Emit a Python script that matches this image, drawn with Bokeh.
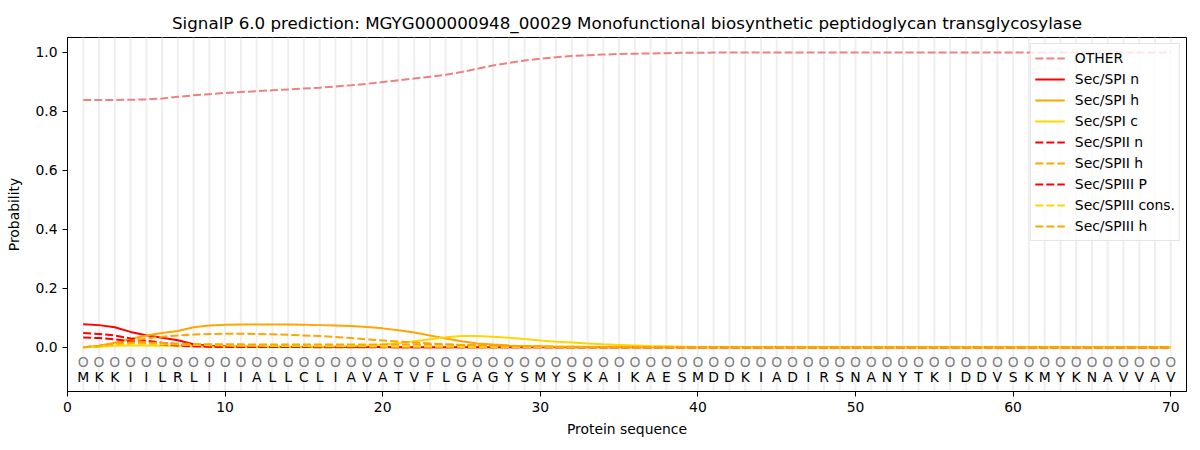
import numpy as np
from bokeh.plotting import figure
from bokeh.models import Span, FixedTicker, PrintfTickFormatter, Range1d, ColumnDataSource
from bokeh.core.properties import value
from bokeh.embed import file_html
from bokeh.resources import INLINE

title = "SignalP 6.0 prediction: MGYG000000948_00029 Monofunctional biosynthetic peptidoglycan transglycosylase"
sequence = "MKKIILRLIIIALLCLIAVATVFLGAGYSMYSKAIKAESMDDKIADIRSNANYTKIDDVSKMYKNAVVAV"

other = [0.838, 0.838, 0.838, 0.839, 0.840, 0.843, 0.849, 0.854, 0.858, 0.862,
         0.865, 0.868, 0.871, 0.874, 0.877, 0.880, 0.884, 0.888, 0.893, 0.899,
         0.905, 0.911, 0.917, 0.924, 0.933, 0.944, 0.955, 0.964, 0.972, 0.978,
         0.983, 0.987, 0.990, 0.992, 0.994, 0.995, 0.996, 0.997, 0.998, 0.998,
         0.999, 0.999, 0.999, 0.999, 0.999, 0.999, 0.999, 0.999, 0.999, 0.999,
         0.999, 0.999, 0.999, 0.999, 0.999, 0.999, 0.999, 0.999, 0.999, 0.999,
         0.999, 0.999, 0.999, 0.999, 0.999, 0.999, 0.999, 0.999, 0.999, 0.999]

spi_n = [0.078, 0.075, 0.068, 0.052, 0.041, 0.032, 0.024, 0.010, 0.005, 0.003,
         0.002, 0.002, 0.001, 0.001, 0.001, 0.001, 0.001, 0.001, 0.001, 0.001,
         0.000, 0.000, 0.000, 0.000, 0.000, 0.000, 0.000, 0.000, 0.000, 0.000,
         0.000, 0.000, 0.000, 0.000, 0.000, 0.000, 0.000, 0.000, 0.000, 0.000,
         0.000, 0.000, 0.000, 0.000, 0.000, 0.000, 0.000, 0.000, 0.000, 0.000,
         0.000, 0.000, 0.000, 0.000, 0.000, 0.000, 0.000, 0.000, 0.000, 0.000,
         0.000, 0.000, 0.000, 0.000, 0.000, 0.000, 0.000, 0.000, 0.000, 0.000]

spi_h = [0.000, 0.005, 0.015, 0.028, 0.040, 0.048, 0.055, 0.068, 0.074, 0.076,
         0.077, 0.077, 0.077, 0.077, 0.076, 0.075, 0.074, 0.072, 0.069, 0.064,
         0.058, 0.050, 0.040, 0.030, 0.020, 0.013, 0.009, 0.006, 0.004, 0.003,
         0.002, 0.002, 0.001, 0.001, 0.001, 0.001, 0.001, 0.001, 0.001, 0.001,
         0.001, 0.001, 0.001, 0.001, 0.001, 0.001, 0.001, 0.001, 0.001, 0.001,
         0.001, 0.001, 0.001, 0.001, 0.001, 0.001, 0.001, 0.001, 0.001, 0.001,
         0.001, 0.001, 0.001, 0.001, 0.001, 0.001, 0.001, 0.001, 0.001, 0.001]

spi_c = [0.000, 0.002, 0.005, 0.006, 0.006, 0.005, 0.004, 0.003, 0.002, 0.002,
         0.002, 0.002, 0.002, 0.002, 0.002, 0.002, 0.003, 0.004, 0.006, 0.009,
         0.014, 0.020, 0.027, 0.034, 0.038, 0.038, 0.036, 0.032, 0.028, 0.023,
         0.019, 0.016, 0.013, 0.010, 0.008, 0.006, 0.004, 0.003, 0.002, 0.001,
         0.000, 0.000, 0.000, 0.000, 0.000, 0.000, 0.000, 0.000, 0.000, 0.000,
         0.000, 0.000, 0.000, 0.000, 0.000, 0.000, 0.000, 0.000, 0.000, 0.000,
         0.000, 0.000, 0.000, 0.000, 0.000, 0.000, 0.000, 0.000, 0.000, 0.000]

spii_n = [0.048, 0.045, 0.040, 0.030, 0.022, 0.015, 0.010, 0.005, 0.003, 0.002,
          0.001, 0.001, 0.001, 0.001, 0.001, 0.000, 0.000, 0.000, 0.000, 0.000,
          0.000, 0.000, 0.000, 0.000, 0.000, 0.000, 0.000, 0.000, 0.000, 0.000,
          0.000, 0.000, 0.000, 0.000, 0.000, 0.000, 0.000, 0.000, 0.000, 0.000,
          0.000, 0.000, 0.000, 0.000, 0.000, 0.000, 0.000, 0.000, 0.000, 0.000,
          0.000, 0.000, 0.000, 0.000, 0.000, 0.000, 0.000, 0.000, 0.000, 0.000,
          0.000, 0.000, 0.000, 0.000, 0.000, 0.000, 0.000, 0.000, 0.000, 0.000]

spii_h = [0.000, 0.003, 0.010, 0.020, 0.030, 0.036, 0.040, 0.043, 0.045, 0.046,
          0.046, 0.045, 0.044, 0.042, 0.040, 0.038, 0.035, 0.031, 0.027, 0.023,
          0.019, 0.016, 0.013, 0.010, 0.008, 0.006, 0.004, 0.003, 0.002, 0.001,
          0.001, 0.001, 0.001, 0.000, 0.000, 0.000, 0.000, 0.000, 0.000, 0.000,
          0.000, 0.000, 0.000, 0.000, 0.000, 0.000, 0.000, 0.000, 0.000, 0.000,
          0.000, 0.000, 0.000, 0.000, 0.000, 0.000, 0.000, 0.000, 0.000, 0.000,
          0.000, 0.000, 0.000, 0.000, 0.000, 0.000, 0.000, 0.000, 0.000, 0.000]

spiii_p = [0.033, 0.031, 0.027, 0.020, 0.014, 0.010, 0.006, 0.003, 0.002, 0.001,
           0.001, 0.001, 0.001, 0.001, 0.001, 0.001, 0.001, 0.001, 0.001, 0.001,
           0.001, 0.001, 0.001, 0.001, 0.001, 0.001, 0.001, 0.001, 0.001, 0.001,
           0.000, 0.000, 0.000, 0.000, 0.000, 0.000, 0.000, 0.000, 0.000, 0.000,
           0.000, 0.000, 0.000, 0.000, 0.000, 0.000, 0.000, 0.000, 0.000, 0.000,
           0.000, 0.000, 0.000, 0.000, 0.000, 0.000, 0.000, 0.000, 0.000, 0.000,
           0.000, 0.000, 0.000, 0.000, 0.000, 0.000, 0.000, 0.000, 0.000, 0.000]

spiii_cons = [0.000, 0.004, 0.009, 0.012, 0.012, 0.011, 0.009, 0.008, 0.007, 0.006,
              0.005, 0.005, 0.004, 0.004, 0.004, 0.003, 0.003, 0.003, 0.003, 0.002,
              0.002, 0.002, 0.002, 0.002, 0.001, 0.001, 0.001, 0.001, 0.001, 0.001,
              0.000, 0.000, 0.000, 0.000, 0.000, 0.000, 0.000, 0.000, 0.000, 0.000,
              0.000, 0.000, 0.000, 0.000, 0.000, 0.000, 0.000, 0.000, 0.000, 0.000,
              0.000, 0.000, 0.000, 0.000, 0.000, 0.000, 0.000, 0.000, 0.000, 0.000,
              0.000, 0.000, 0.000, 0.000, 0.000, 0.000, 0.000, 0.000, 0.000, 0.000]

spiii_h = [0.000, 0.005, 0.012, 0.016, 0.016, 0.014, 0.012, 0.011, 0.010, 0.010,
           0.010, 0.009, 0.009, 0.009, 0.009, 0.009, 0.009, 0.009, 0.009, 0.009,
           0.009, 0.009, 0.009, 0.009, 0.008, 0.007, 0.006, 0.005, 0.004, 0.003,
           0.002, 0.002, 0.001, 0.001, 0.001, 0.001, 0.001, 0.001, 0.001, 0.001,
           0.001, 0.001, 0.001, 0.001, 0.001, 0.001, 0.001, 0.001, 0.001, 0.001,
           0.001, 0.001, 0.001, 0.001, 0.001, 0.001, 0.001, 0.001, 0.001, 0.001,
           0.001, 0.001, 0.001, 0.001, 0.001, 0.001, 0.001, 0.001, 0.001, 0.001]

series = [
    ("OTHER", other, "#f08080", "dashed"),
    ("Sec/SPI n", spi_n, "#ff0000", "solid"),
    ("Sec/SPI h", spi_h, "#ffa500", "solid"),
    ("Sec/SPI c", spi_c, "#ffd700", "solid"),
    ("Sec/SPII n", spii_n, "#ff0000", "dashed"),
    ("Sec/SPII h", spii_h, "#ffa500", "dashed"),
    ("Sec/SPIII P", spiii_p, "#ff0000", "dashed"),
    ("Sec/SPIII cons.", spiii_cons, "#ffd700", "dashed"),
    ("Sec/SPIII h", spiii_h, "#ffa500", "dashed"),
]

FONT = "DejaVu Sans"
FS = "13.9px"
pos = np.arange(1, len(sequence) + 1)

p = figure(output_backend="svg", toolbar_location=None,
           x_range=Range1d(0, len(sequence) + 1), y_range=Range1d(-0.15, 1.05),
           frame_width=1119, frame_height=354,
           min_border_left=67, min_border_right=6, min_border_top=37, min_border_bottom=38)

p.title.text = title
p.title.align = "center"
p.title.text_font = FONT
p.title.text_font_size = "16.7px"
p.title.text_font_style = "normal"
p.title.text_color = "black"
p.title.offset = 0

p.xgrid.visible = False
p.ygrid.visible = False
p.outline_line_color = "black"
p.outline_line_width = 1
p.background_fill_color = "white"

for x in pos:
    p.add_layout(Span(location=float(x), dimension="height", line_color="#efefef",
                      line_width=2, level="underlay"))

for name, vals, color, dash in series:
    p.line(pos, vals, line_color=color, line_width=2,
           line_dash=("8 3" if dash == "dashed" else "solid"), legend_label=name)

src = ColumnDataSource(dict(x=pos, o=["O"] * len(sequence), aa=list(sequence),
                            yo=[-0.05] * len(sequence), ya=[-0.1] * len(sequence)))
p.text(x="x", y="yo", text="o", source=src, text_align="center", text_baseline="middle",
       text_color="gray", text_font=value(FONT), text_font_size=FS)
p.text(x="x", y="ya", text="aa", source=src, text_align="center", text_baseline="middle",
       text_color="black", text_font=value(FONT), text_font_size=FS)

p.xaxis.ticker = FixedTicker(ticks=[0, 10, 20, 30, 40, 50, 60, 70])
p.yaxis.ticker = FixedTicker(ticks=[0.0, 0.2, 0.4, 0.6, 0.8, 1.0])
p.yaxis.formatter = PrintfTickFormatter(format="%.1f")
for ax in (p.xaxis[0], p.yaxis[0]):
    ax.major_label_text_font = FONT
    ax.major_label_text_font_size = FS
    ax.major_label_text_color = "black"
    ax.axis_label_text_font = FONT
    ax.axis_label_text_font_size = FS
    ax.axis_label_text_font_style = "normal"
    ax.axis_label_text_color = "black"
    ax.minor_tick_line_color = None
    ax.major_tick_out = 5
    ax.major_tick_in = 0
    ax.axis_line_color = "black"
p.xaxis.axis_label = "Protein sequence"
p.yaxis.axis_label = "Probability"
p.yaxis.axis_label_standoff = 10
p.xaxis.axis_label_standoff = 6

lg = p.legend[0]
lg.location = "top_right"
lg.label_text_font = FONT
lg.label_text_font_size = FS
lg.label_text_color = "black"
lg.glyph_width = 30
lg.glyph_height = 20
lg.label_height = 20
lg.spacing = 1
lg.padding = 4
lg.margin = 6
lg.label_standoff = 10
lg.border_line_color = "#cccccc"
lg.border_line_width = 1
lg.background_fill_alpha = 0.8

open("out.html", "w").write(file_html(p, INLINE))
